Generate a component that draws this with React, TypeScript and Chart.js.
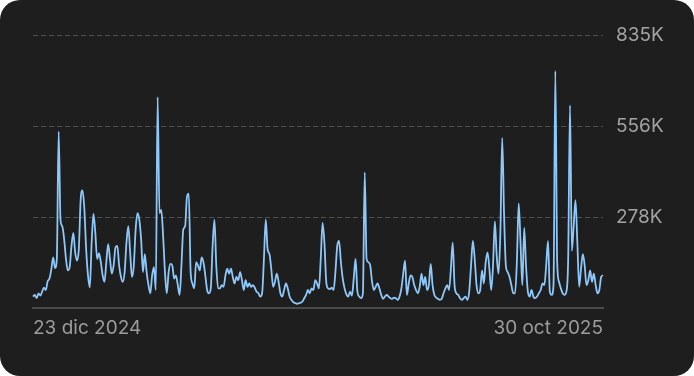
import React, { useEffect, useRef } from "react";
import { Chart, registerables } from "chart.js";

Chart.register(...registerables);

// Daily values (thousands), 23 dic 2024 → 30 oct 2025
const dec2024 = [35, 40, 30, 45, 38, 50, 62, 55, 82];
const jan2025 = [90, 118, 155, 122, 150, 540, 270, 250, 210, 150, 115, 125, 190, 230, 170, 145, 180, 330, 360, 305, 180, 100, 63, 200, 288, 230, 150, 168, 140, 100, 80];
const feb2025 = [140, 195, 150, 105, 130, 185, 190, 130, 95, 80, 110, 200, 250, 170, 95, 130, 240, 290, 270, 210, 110, 165, 110, 70, 45, 100, 125, 55];
const mar2025 = [645, 290, 300, 220, 110, 45, 110, 135, 130, 90, 100, 70, 40, 130, 240, 250, 340, 350, 110, 75, 60, 140, 130, 115, 155, 140, 100, 55, 45, 60, 190];
const apr2025 = [270, 130, 60, 60, 70, 65, 100, 120, 105, 120, 95, 75, 95, 85, 110, 85, 55, 85, 65, 75, 65, 70, 62, 50, 45, 35, 45, 150, 270, 180];
const may2025 = [165, 120, 65, 80, 105, 80, 45, 35, 55, 75, 60, 35, 25, 18, 15, 13, 14, 16, 20, 30, 40, 55, 45, 60, 55, 85, 75, 60, 150, 260, 200];
const jun2025 = [80, 60, 58, 62, 55, 110, 190, 205, 140, 90, 60, 42, 35, 50, 38, 90, 150, 50, 35, 30, 45, 415, 150, 140, 130, 80, 55, 65, 75, 60];
const jul2025 = [40, 28, 35, 40, 35, 30, 28, 32, 30, 25, 35, 60, 105, 145, 40, 75, 100, 95, 70, 55, 45, 65, 105, 70, 95, 55, 70, 135, 70, 40, 32];
const aug2025 = [28, 25, 28, 45, 60, 70, 55, 120, 200, 70, 45, 40, 30, 25, 30, 35, 25, 50, 130, 205, 150, 70, 45, 55, 115, 75, 140, 170, 120, 55, 130];
const sep2025 = [265, 160, 105, 230, 520, 290, 130, 110, 95, 70, 45, 45, 140, 320, 200, 70, 245, 130, 50, 35, 55, 35, 30, 35, 45, 55, 75, 70, 130, 205];
const oct2025 = [50, 40, 70, 725, 140, 80, 60, 45, 40, 50, 150, 620, 175, 250, 330, 200, 65, 120, 165, 130, 70, 85, 115, 80, 105, 70, 45, 55, 95, 100];

const monthsEs = ["ene", "feb", "mar", "abr", "may", "jun", "jul", "ago", "sep", "oct", "nov", "dic"];
const startDate = [2024, 11, 23]; // year, monthIndex, day
const yTickValues = [0, 278, 556, 835];
const yMax = 835;

function buildLabels(n: number): string[] {
  const out: string[] = [];
  for (let i = 0; i < n; i++) {
    const d = new Date(Date.UTC(startDate[0], startDate[1], startDate[2] + i));
    out.push(`${d.getUTCDate()} ${monthsEs[d.getUTCMonth()]} ${d.getUTCFullYear()}`);
  }
  return out;
}

export default function App() {
  const ref = useRef<HTMLCanvasElement>(null);

  useEffect(() => {
    document.body.style.margin = "0";
    const values = [
      ...dec2024, ...jan2025, ...feb2025, ...mar2025, ...apr2025, ...may2025,
      ...jun2025, ...jul2025, ...aug2025, ...sep2025, ...oct2025,
    ];
    const labels = buildLabels(values.length);
    const font = { family: "Inter, 'Noto Sans', sans-serif", size: 19 };
    const chart = new Chart(ref.current as HTMLCanvasElement, {
      type: "line",
      data: {
        labels,
        datasets: [
          {
            data: values,
            borderColor: "#8ec8fa",
            borderWidth: 1.8,
            pointRadius: 0,
            cubicInterpolationMode: "monotone",
            fill: false,
          },
        ],
      },
      options: {
        animation: false,
        responsive: false,
        layout: { padding: { left: 33, right: 0, top: 35, bottom: 0 } },
        plugins: { legend: { display: false }, tooltip: { enabled: false } },
        scales: {
          x: {
            type: "category",
            grid: { display: false, drawTicks: false },
            border: { display: true, color: "#4a4a4a", width: 2 },
            ticks: {
              autoSkip: false,
              maxRotation: 0,
              minRotation: 0,
              align: "inner",
              padding: 9,
              color: "#9c9c9c",
              font,
              callback: (_v: any, i: number) =>
                i === 0 || i === labels.length - 1 ? labels[i] : null,
            },
            afterFit: (s: any) => {
              s.height = 68;
            },
          },
          y: {
            position: "right",
            min: 0,
            max: yMax,
            afterBuildTicks: (s: any) => {
              s.ticks = yTickValues.map((v) => ({ value: v }));
            },
            grid: {
              drawTicks: false,
              lineWidth: 1,
              color: (ctx: any) =>
                ctx.tick && ctx.tick.value === 0 ? "rgba(0,0,0,0)" : "#505050",
            },
            border: { display: false, dash: [5, 3] },
            ticks: {
              padding: 13,
              color: "#a3a3a3",
              font,
              callback: (v: any) => (v === 0 ? null : `${v}K`),
            },
            afterFit: (s: any) => {
              s.width = 91;
            },
          },
        },
      },
    } as any);
    return () => chart.destroy();
  }, []);

  return (
    <div
      style={{
        position: "fixed",
        left: 0,
        top: 0,
        width: 694,
        height: 376,
        background: "#1e1e1e",
        borderRadius: 20,
        overflow: "hidden",
      }}
    >
      <canvas ref={ref} width={694} height={376} style={{ display: "block" }} />
    </div>
  );
}
